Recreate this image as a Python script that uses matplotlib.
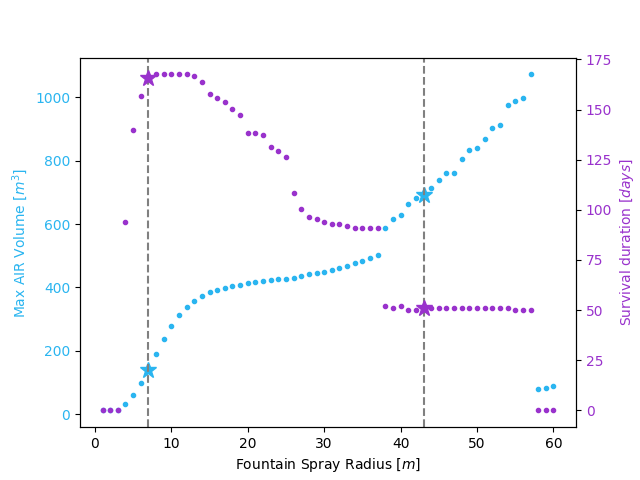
import matplotlib
matplotlib.use("Agg")
import matplotlib.pyplot as plt
import numpy as np

BLUE = "#2ab5f0"
PURPLE = "#9932cc"

radius = list(range(1, 61))

# max AIR volume [m^3]
volume = [12, 12, 12, 31, 62, 100, 141, 189, 236, 277,
          312, 338, 357, 373, 384, 392, 399, 405, 409, 414,
          417, 420, 424, 427, 428, 429, 436, 442, 445, 448,
          455, 461, 467, 477, 483, 493, 503, 588, 616, 629,
          664, 683, 692, 714, 740, 762, 762, 806, 835, 841,
          869, 904, 913, 977, 987, 999, 1072, 81, 84, 88]

# survival duration [days]
survival = [0, 0, 0, 94, 139.6, 156.5, 165.5, 167.5, 167.5, 167.5,
            167.5, 167.5, 166.5, 163.5, 157.5, 155.5, 153.5, 150.5, 147.5, 138.5,
            138.5, 137.5, 131.5, 129.5, 126.5, 108.5, 100.5, 96.5, 95.5, 94,
            93, 93, 92, 91, 91, 91, 91, 52, 51, 52,
            50, 50, 51, 51, 51, 51, 51, 51, 51, 51,
            51, 51, 51, 51, 50, 50, 50, 0, 0, 0]

# highlighted radii
marked = [7, 43]

fig, ax = plt.subplots(figsize=(6.4, 4.8), dpi=100)
ax2 = ax.twinx()

ax.plot(radius, volume, linestyle="none", marker="o", markersize=3, color=BLUE)
ax2.plot(radius, survival, linestyle="none", marker="o", markersize=3, color=PURPLE)

for r in marked:
    i = radius.index(r)
    ax.plot(r, volume[i], marker="*", markersize=12, color=BLUE)
    ax2.plot(r, survival[i], marker="*", markersize=12, color=PURPLE)
    ax.axvline(r, color="grey", linestyle="--", linewidth=1.5)

ax.set_xlabel("Fountain Spray Radius [$m$]")
ax.set_ylabel("Max AIR Volume [$m^3$]", color=BLUE)
ax2.set_ylabel("Survival duration [$days$]", color=PURPLE)
ax.tick_params(axis="y", labelcolor=BLUE)
ax2.tick_params(axis="y", labelcolor=PURPLE)

fig.savefig("out.png", dpi=100)
